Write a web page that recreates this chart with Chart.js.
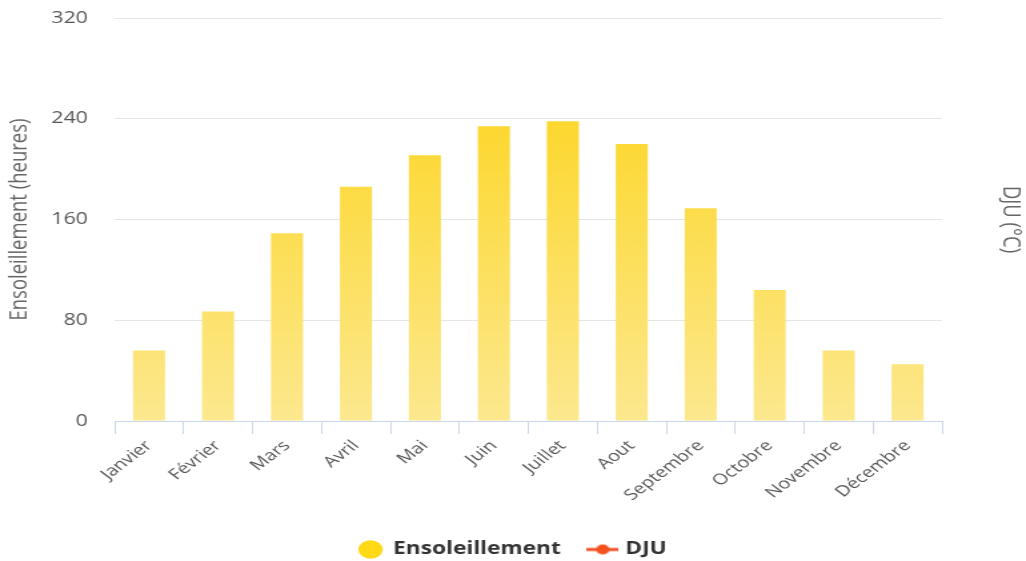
<!DOCTYPE html>
<html>
<head>
<meta charset="utf-8">
<script src="https://cdn.jsdelivr.net/npm/chart.js@4"></script>
<style>
html,body{margin:0;padding:0;background:#fff;overflow:hidden;}
#wrap{width:1026px;height:561px;position:relative;overflow:hidden;}
#c{position:absolute;left:0;top:0;transform-origin:0 0;transform:scale(1.33247,1);}
</style>
</head>
<body>
<div id="wrap"><canvas id="c" width="770" height="561"></canvas></div>
<script>
const months = ['Janvier','Février','Mars','Avril','Mai','Juin','Juillet','Aout','Septembre','Octobre','Novembre','Décembre'];
const ensoleillement = [56, 87, 149, 186, 211, 234, 238, 220, 169, 104, 56, 45];
const dju = [];
const yTicks = [0, 80, 160, 240, 320];

const FONT = "'Open Sans', 'DejaVu Sans', sans-serif";

function barGradient(ctx) {
  const chart = ctx.chart;
  const area = chart.chartArea;
  if (!area) return '#FDDC3A';
  const g = chart.ctx.createLinearGradient(0, area.top, 0, area.bottom);
  g.addColorStop(0, '#FDD20F');
  g.addColorStop(1, '#FCE88E');
  return g;
}

// legend icon for the DJU line series
const djuIcon = document.createElement('canvas');
djuIcon.width = 24; djuIcon.height = 12;
(function(){
  const c = djuIcon.getContext('2d');
  c.strokeStyle = '#F4511E'; c.lineWidth = 3;
  c.beginPath(); c.moveTo(0, 6); c.lineTo(24, 6); c.stroke();
  c.fillStyle = '#F4511E';
  c.beginPath(); c.arc(12, 6, 5, 0, Math.PI * 2); c.fill();
})();

new Chart(document.getElementById('c'), {
  data: {
    labels: months,
    datasets: [
      {
        type: 'bar',
        label: 'Ensoleillement',
        data: ensoleillement,
        yAxisID: 'y',
        backgroundColor: barGradient,
        borderWidth: 0,
        categoryPercentage: 1,
        barPercentage: 0.465,
        order: 2
      },
      {
        type: 'line',
        label: 'DJU',
        data: dju,
        yAxisID: 'y2',
        borderColor: '#F4511E',
        backgroundColor: '#F4511E',
        borderWidth: 3,
        order: 1
      }
    ]
  },
  options: {
    responsive: false,
    animation: false,
    devicePixelRatio: 1,
    layout: { padding: { top: 18, bottom: -7, left: 0, right: 0 } },
    plugins: {
      tooltip: { enabled: false },
      legend: {
        position: 'bottom',
        labels: {
          usePointStyle: true,
          boxHeight: 13,
          boxWidth: 17,
          padding: 23,
          color: '#333333',
          font: { family: FONT, size: 17, weight: 'bold' },
          generateLabels: function(chart) {
            return [
              { text: 'Ensoleillement', fillStyle: '#FFD816', strokeStyle: '#FFD816', lineWidth: 0, pointStyle: 'circle', datasetIndex: 0, hidden: false, fontColor: '#333333' },
              { text: 'DJU', fillStyle: '#F4511E', strokeStyle: '#F4511E', lineWidth: 0, pointStyle: djuIcon, datasetIndex: 1, hidden: false, fontColor: '#333333' }
            ];
          }
        }
      }
    },
    scales: {
      x: {
        offset: true,
        grid: {
          offset: true,
          drawOnChartArea: false,
          drawTicks: true,
          tickLength: 13,
          color: '#CCD6EB',
          lineWidth: 1
        },
        border: { display: true, color: '#CCD6EB', width: 1 },
        ticks: {
          color: '#555555',
          font: { family: FONT, size: 15 },
          minRotation: 45,
          maxRotation: 45,
          autoSkip: false,
          padding: 3
        },
        afterFit: function(s) { s.height = 97; }
      },
      y: {
        position: 'left',
        min: 0,
        max: 320,
        afterBuildTicks: function(s) { s.ticks = yTicks.map(v => ({ value: v })); },
        grid: { color: '#E6E6E6', drawTicks: true, tickLength: 20, tickColor: 'rgba(0,0,0,0)', lineWidth: 1 },
        border: { display: false },
        ticks: {
          color: '#555555',
          font: { family: FONT, size: 16 },
          padding: 0
        },
        title: {
          display: true,
          text: 'Ensoleillement (heures)',
          color: '#666666',
          font: { family: FONT, size: 18.5 },
          padding: { top: 4, bottom: 0 }
        },
        afterFit: function(s) { s.width = 86; }
      },
      y2: {
        position: 'right',
        grid: { display: false, drawTicks: false },
        border: { display: false },
        ticks: { display: false },
        title: {
          display: true,
          text: 'DJU (°C)',
          color: '#666666',
          font: { family: FONT, size: 18.5 },
          padding: { top: 1, bottom: 0 }
        },
        afterFit: function(s) { s.width = 63; }
      }
    }
  }
});
</script>
</body>
</html>
